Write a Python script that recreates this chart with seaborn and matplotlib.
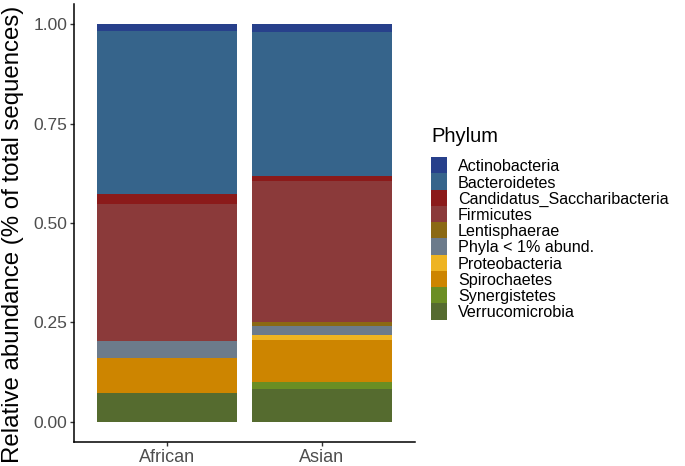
import matplotlib
matplotlib.use("Agg")
import matplotlib.pyplot as plt
import seaborn as sns
import pandas as pd
import numpy as np
from matplotlib.patches import Rectangle

groups = ["African", "Asian"]
phyla = ["Actinobacteria", "Bacteroidetes", "Candidatus_Saccharibacteria",
         "Firmicutes", "Lentisphaerae", "Phyla < 1% abund.", "Proteobacteria",
         "Spirochaetes", "Synergistetes", "Verrucomicrobia"]
african = [0.018, 0.410, 0.024, 0.345, 0.000, 0.043, 0.000, 0.088, 0.000, 0.072]
asian = [0.020, 0.361, 0.013, 0.354, 0.011, 0.024, 0.012, 0.106, 0.017, 0.082]
colors = ["#27408B", "#36648B", "#8B1A1A", "#8B3A3A", "#8B6914",
          "#6C7B8B", "#EEB422", "#CD8500", "#6B8E23", "#556B2F"]

sns.set_theme(style="white")
plt.rcParams['font.family'] = ['Liberation Sans', 'DejaVu Sans']

W, H = 685, 466
fig = plt.figure(figsize=(W / 100, H / 100), dpi=100)
ax = fig.add_axes([74 / W, 1 - 441.6 / H, (415 - 74) / W, (441.6 - 4.4) / H])

vals = np.array([african, asian])  # groups x phyla
# cumulative tops, stacking with last phylum at bottom
cum = np.cumsum(vals[:, ::-1], axis=1)[:, ::-1]
for i, ph in enumerate(phyla):
    d = pd.DataFrame({"group": groups, "top": cum[:, i]})
    sns.barplot(data=d, x="group", y="top", order=groups, color=colors[i],
                width=0.9, saturation=1, errorbar=None, ax=ax, linewidth=0)

ax.set_xlim(-0.6, 1.6)
ax.set_ylim(-0.05, 1.05)
ax.set_yticks([0, 0.25, 0.5, 0.75, 1.0])
ax.set_yticklabels(["0.00", "0.25", "0.50", "0.75", "1.00"])
ax.set_xlabel("")
ax.set_ylabel("")
for s in ["top", "right"]:
    ax.spines[s].set_visible(False)
for s in ["left", "bottom"]:
    ax.spines[s].set_color("black")
    ax.spines[s].set_linewidth(1.1)
ax.tick_params(axis="both", which="both", length=3, width=1.0, color="#333333",
               labelcolor="#4D4D4D", left=True, bottom=True)
ax.tick_params(axis="y", labelsize=12.5, pad=2)
ax.tick_params(axis="x", labelsize=13, pad=2)

fig.text(13 / W, 1 - 234.5 / H, "Relative abundance (% of total sequences)",
         rotation=90, ha="center", va="center", fontsize=17.3, color="black")

# legend
fig.text(431 / W, 1 - 137 / H, "Phylum", ha="left", va="center",
         fontsize=14.5, color="black")
row = 16.2
top0 = 157.3
for i, ph in enumerate(phyla):
    y0 = top0 + i * row
    fig.add_artist(Rectangle((430.7 / W, 1 - (y0 + row + 0.6) / H), 16 / W,
                             (row + 0.6) / H,
                             transform=fig.transFigure, facecolor=colors[i],
                             edgecolor="none"))
    fig.text(458 / W, 1 - (y0 + row / 2) / H, ph, ha="left", va="center_baseline",
             fontsize=11.6, color="black")

fig.savefig("out.png", dpi=100)
